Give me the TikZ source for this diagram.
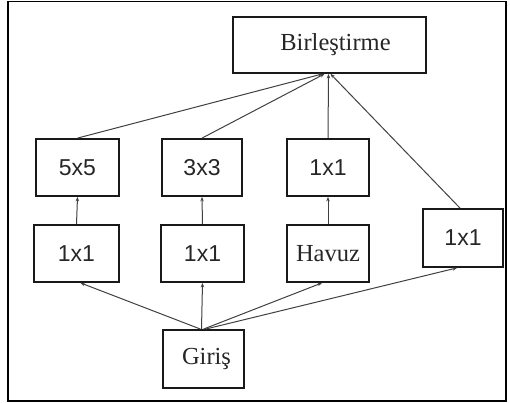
\documentclass[tikz,border=0pt]{standalone}
\usepackage{fontspec}
\setmainfont{Liberation Serif}
\newfontfamily\boxsans{Liberation Sans}
\usetikzlibrary{calc,arrows.meta}

\tikzset{
  blk/.style={draw=black!90, line width=1.8pt, inner sep=0pt, minimum height=57pt},
  sanslbl/.style={font=\boxsans\fontsize{23}{23}\selectfont, text=black!85},
  seriflbl/.style={font=\fontsize{24.5}{24.5}\selectfont, text=black!85},
  conn/.style={draw=black!75, line width=1pt, -{Stealth[length=4.5pt,width=3.5pt]}}
}

\begin{document}
\begin{tikzpicture}[x={(1pt,0)}, y={(0,-1pt)}]
  \useasboundingbox (0,0) rectangle (510,403);
  \draw[line width=1.5pt] (8,1.5) rectangle (506,401);

  % top and bottom
  \node[blk, seriflbl, minimum width=193pt, minimum height=56pt] (birles) at (329.5,45) {\hspace{12pt}\raisebox{-3pt}{Birle\c{s}tirme}};
  \node[blk, seriflbl, minimum width=81pt, minimum height=58pt] (giris) at (203.5,359) {\hspace{6pt}\raisebox{-2pt}{Giri\c{s}}};

  % upper row
  \node[blk, sanslbl, minimum width=83pt] (conva) at (77.5,167.5) {5x5};
  \node[blk, sanslbl, minimum width=80pt] (convb) at (202,167.5) {3x3};
  \node[blk, sanslbl, minimum width=82pt] (convc) at (328,167.5) {1x1};

  % lower row
  \node[blk, sanslbl, minimum width=85pt] (reda) at (76.5,253.5) {1x1};
  \node[blk, sanslbl, minimum width=83pt] (redb) at (202.5,253.5) {1x1};
  \node[blk, seriflbl, minimum width=82pt] (havuz) at (328,253.5) {Havuz};
  \node[blk, sanslbl, minimum width=80pt, minimum height=58pt] (single) at (463,238) {1x1};

  % into the concatenation
  \draw[conn] (conva.north) -- ($(birles.south)+(-7,0)$);
  \draw[conn] (convb.north) -- ($(birles.south)+(-5,0)$);
  \draw[conn] (convc.north) -- ($(birles.south)+(-1,0)$);
  \draw[conn] ($(single.north)+(-3,0)$) -- ($(birles.south)+(1,0)$);

  % middle links
  \draw[conn] (reda.north) -- (conva.south);
  \draw[conn] (redb.north) -- (convb.south);
  \draw[conn] (havuz.north) -- (convc.south);

  % out of the input
  \draw[conn] ($(giris.north)+(-3,0)$) -- ($(reda.south)+(4,0)$);
  \draw[conn] ($(giris.north)+(-2,0)$) -- ($(redb.south)+(0,0)$);
  \draw[conn] ($(giris.north)+(0,0)$) -- ($(havuz.south)+(-6,0)$);
  \draw[conn] ($(giris.north)+(2,0)$) -- ($(single.south)+(-6,0)$);
\end{tikzpicture}
\end{document}
